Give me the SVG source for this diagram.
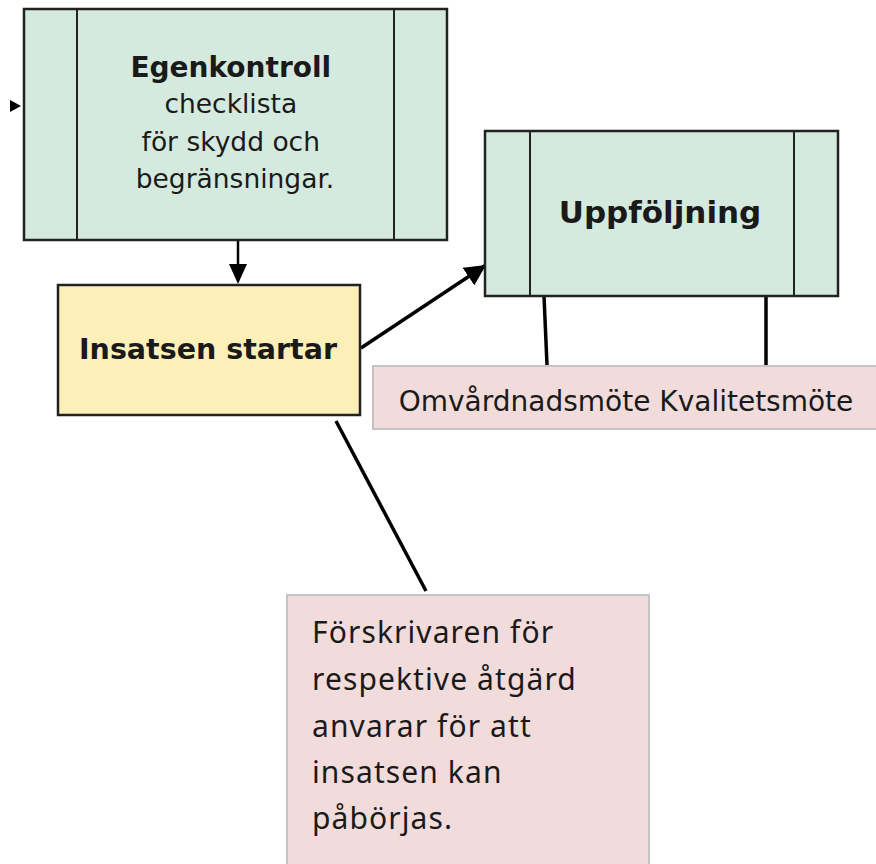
<svg xmlns="http://www.w3.org/2000/svg" width="876" height="864" viewBox="0 0 876 864">
<defs>
<style>
.proc{fill:#d5eadf;stroke:#222;stroke-width:2.5}
.div{stroke:#222;stroke-width:2}
.start{fill:#fdefb8;stroke:#222;stroke-width:2.5}
.note{fill:#f2dcdb;stroke:#c4c4c4;stroke-width:2}
.conn{stroke:#000;stroke-width:3.5;fill:none}
.t{font-family:"DejaVu Sans",Verdana,sans-serif;fill:#1a1a1a}
.b{font-weight:bold}
.n{font-family:"Noto Sans","Open Sans",sans-serif;fill:#1a1a1a;font-size:30px;letter-spacing:1.1px}
</style>
<marker id="ah" viewBox="0 0 10 10" refX="10" refY="5" markerWidth="6" markerHeight="6" markerUnits="strokeWidth" orient="auto">
<path d="M0,0 L10,5 L0,10 z" fill="#000"/>
</marker>
</defs>
<rect width="876" height="864" fill="#fff"/>
<g id="connectors">
<polygon points="10,100 21,106 10,112" fill="#000"/>
<line class="conn" x1="238" y1="241" x2="238" y2="266" style="stroke-width:2.5"/>
<polygon points="229,264 247,264 238,284" fill="#000"/>
<line class="conn" x1="361" y1="348" x2="486" y2="265" marker-end="url(#ah)"/>
<line class="conn" x1="336" y1="421" x2="426" y2="591"/>
<line class="conn" x1="544" y1="296" x2="547" y2="365"/>
<line class="conn" x1="766" y1="296" x2="766" y2="365"/>
</g>
<g id="egenkontroll">
<rect class="proc" x="24" y="9" width="423" height="231"/>
<line class="div" x1="77" y1="9" x2="77" y2="240"/>
<line class="div" x1="394" y1="9" x2="394" y2="240"/>
<text class="t" text-anchor="middle" font-size="26.5">
<tspan class="b" x="235" y="77" font-size="28">Egenkontroll</tspan>
<tspan x="235" y="113">checklista</tspan>
<tspan x="235" y="151">för skydd och</tspan>
<tspan x="235" y="188">begränsningar.</tspan>
</text>
</g>
<g id="insatsen">
<rect class="start" x="58" y="285" width="302" height="130"/>
<text class="t b" x="208" y="359" text-anchor="middle" font-size="28.5">Insatsen startar</text>
</g>
<g id="uppfoljning">
<rect class="proc" x="485" y="131" width="353" height="165"/>
<line class="div" x1="530" y1="131" x2="530" y2="296"/>
<line class="div" x1="794" y1="131" x2="794" y2="296"/>
<text class="t b" x="660" y="223" text-anchor="middle" font-size="31">Uppföljning</text>
</g>
<g id="moten">
<rect class="note" x="373" y="366" width="510" height="63"/>
<text class="t" x="626" y="411" text-anchor="middle" font-size="28">Omvårdnadsmöte Kvalitetsmöte</text>
</g>
<g id="forskrivaren">
<rect class="note" x="287" y="595" width="362" height="280"/>
<text class="n">
<tspan x="312" y="643">Förskrivaren för</tspan>
<tspan x="312" y="690">respektive åtgärd</tspan>
<tspan x="312" y="737">anvarar för att</tspan>
<tspan x="312" y="783">insatsen kan</tspan>
<tspan x="312" y="829">påbörjas.</tspan>
</text>
</g>
</svg>
